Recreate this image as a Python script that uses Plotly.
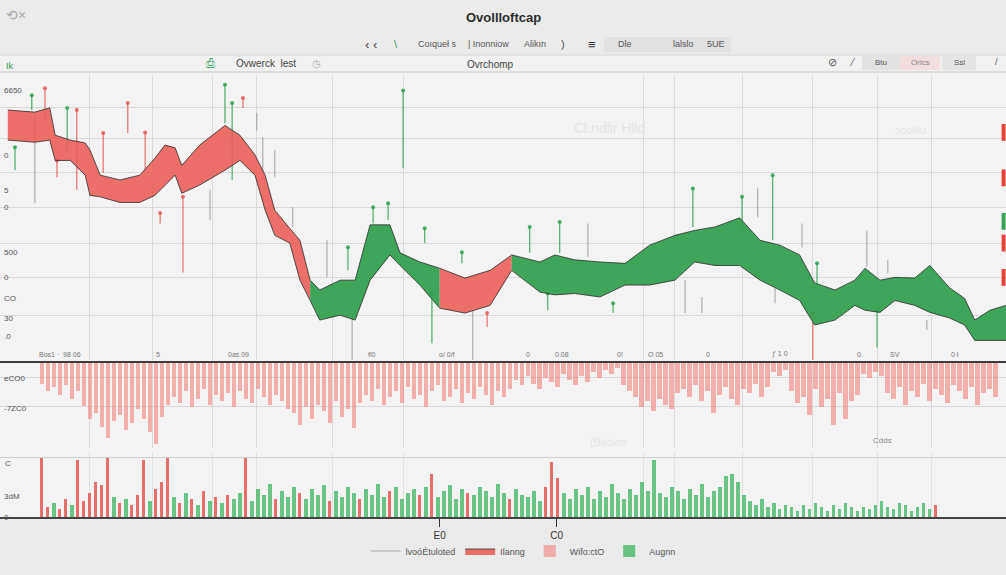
import plotly.graph_objects as go
from plotly.subplots import make_subplots

# --- price band (session index, band top / band bottom, d = falling, u = rising)
rib_x = [1.3, 5.8, 8.3, 9.2, 11.7, 14.2, 15, 16.7, 20, 23.3, 25.8, 27.5, 29.2, 30.3, 33.3,
         37.5, 40, 42.5, 44.2, 45.8, 48.3, 50, 51.7, 53.3, 56.7, 59.2, 61.7, 65, 66.7, 70,
         73.3, 77.5, 81.7, 85.3, 90, 92.5, 95.8, 100, 104.2, 108.3, 112.5, 115.8, 119.2, 123.3, 126.7,
         130, 133.3, 135.8, 139.2, 142.5, 144.2, 146.7, 149.2, 152.5, 155, 158.3, 160.8, 162.5, 165, 167.7]
rib_hi = [393, 390, 396, 357, 350, 346, 336, 300, 293, 300, 324, 343, 339, 314, 343,
          371, 357, 329, 300, 250, 224, 207, 150, 136, 150, 150, 229, 229, 189, 176,
          167, 153, 164, 186, 176, 186, 179, 176, 174, 200, 214, 221, 226, 239, 207,
          200, 186, 146, 136, 150, 167, 150, 154, 153, 171, 139, 124, 93, 107, 114]
rib_lo = [350, 347, 350, 321, 321, 300, 271, 269, 261, 261, 271, 286, 300, 274, 286,
          307, 321, 300, 250, 214, 203, 150, 121, 93, 100, 93, 150, 186, 171, 143,
          110, 103, 114, 164, 133, 129, 131, 126, 143, 143, 150, 176, 171, 171, 150,
          136, 121, 86, 93, 114, 107, 104, 121, 114, 104, 96, 86, 64, 64, 64]
rib_dir = "d" * 22 + "u" * 8 + "d" * 3 + "u" * 27

# --- wicks (session index, high, low, n = neutral)
wick_x = [2.5, 5.3, 5.8, 7.5, 9.5, 11.2, 12.8, 17.2, 21.3, 24.2, 26.7, 30.5, 35, 37.5, 38.7,
          40.5, 42.8, 43.8, 45.8, 48.8, 54.5, 58, 58.7, 62.2, 64.7, 67.2, 70.8, 72, 77, 78.8,
          81.2, 88.3, 91.3, 93.3, 98, 102.2, 114.2, 115.5, 117, 123.7, 126.3, 128.8, 129.2, 133.7,
          135.5, 136.2, 144.5, 146.2, 148, 154.5, 160, 163.7]
wick_hi = [340, 414, 389, 424, 321, 396, 393, 360, 403, 361, 246, 269, 279, 429, 403,
           410, 389, 354, 336, 254, 207, 197, 103, 254, 260, 421, 224, 131, 190, 107,
           103, 226, 131, 233, 231, 117, 150, 281, 126, 269, 281, 300, 140, 231,
           103, 174, 221, 107, 179, 93, 160, 64]
wick_lo = [307, 393, 260, 379, 297, 336, 279, 303, 360, 307, 231, 161, 236, 374, 293,
           396, 364, 293, 297, 226, 154, 164, 36, 231, 236, 310, 203, 60, 174, 36,
           83, 189, 107, 189, 183, 103, 103, 226, 103, 221, 240, 207, 117, 197,
           36, 140, 169, 54, 160, 79, 131, 46]
wick_dir = "ggnrrgrrrrrrnggrnnnnngnggggggnr" + "ggg" + "ngngngngnnrgngnn"

# --- selling pressure, hanging from the centre line (session 7..)
sell_depth = [22, 30, 26, 34, 24, 38, 30,
              45, 58, 52, 66, 78, 60, 54, 70, 62, 48, 58, 72, 84, 56, 44,
              36, 42, 30, 46, 38, 28, 44, 34, 40, 32, 46, 30, 38, 42, 28, 36, 44, 34, 40, 48,
              52, 64, 46, 58, 44, 50, 62, 40, 56, 48, 68, 42,
              34, 40, 28, 44, 36, 30, 42, 26, 38, 34, 46, 30, 24, 40, 36, 28, 42, 32, 38, 26, 34,
              44, 30, 36, 28,
              18, 24, 14, 22, 28, 16, 20, 26, 12, 18, 24, 14, 20, 10, 16,
              8, 12, 6, 24, 30, 36,
              46, 40, 50, 38, 44, 48, 32,
              28, 36, 24, 40, 30, 52, 34, 26, 38, 44, 28, 32, 22, 36, 26,
              10, 14, 8,
              30, 42, 36, 54, 28, 46, 38, 64, 32, 58, 40, 34,
              12, 16, 10, 14,
              32, 38, 26, 44, 30, 36, 22, 40, 28, 34, 42, 24, 30, 38, 26, 44, 32, 28, 36]

# --- volume (session 7..), r = down day, g = up day
volume = [60, 10, 14, 8, 18, 12, 58,
          16, 24, 36, 32, 60, 20, 14, 18, 12, 22,
          58, 16, 28, 36, 60, 20, 14, 24, 18, 12,
          26, 16, 20, 14, 22, 18, 24, 60, 16, 28,
          22, 34, 18, 26, 20, 30, 24, 18, 28, 22,
          32, 16, 26, 20, 30, 24, 18, 28, 22, 34,
          20, 26, 30, 18, 24, 28, 22, 30, 44, 20,
          26, 32, 18, 28, 24, 22, 30, 26, 20, 34,
          24, 18, 28, 22, 20, 26, 16, 30, 56, 40,
          24, 18, 28, 22, 30, 18, 26, 20, 34, 24,
          18, 28, 22, 36, 26, 58, 24, 20, 30, 26,
          18, 28, 22, 34, 20, 26, 30, 42, 44, 36,
          22, 16, 12, 18, 10, 14, 8, 12, 10, 6,
          12, 8, 14, 10, 6, 12, 8, 14, 10, 6,
          10, 8, 12, 16, 10, 8, 14, 12, 6, 10,
          14, 8, 12, 22, 10, 6, 8, 4, 6, 4,
          6, 4, 8]
vol_dir = ("rrgrrgr" + "rrrrrgrgrr" + "rgrrrgrgrg" + "rgrgrggrgg" + "ggrgggrggg"
           + "grggggrggg" + "grggggrgrg" + "ggggrggggg" + "grgggggrrr"
           + "g" * 60 + "ggr")

grid_x = [15, 25.5, 35.5, 42.8, 55.5, 67.2, 107.2, 112.5, 123.7, 135.5, 146.3, 155.3]
grid_price = [100, 154, 203, 254, 304, 353, 397]
tag_price = [361, 296, 234, 203, 154]
tag_dir = "rrgrr"

W, H = 1006, 575
RED = "rgba(234,92,86,0.88)"
GREEN = "rgba(48,158,78,0.92)"
EDGE = "rgba(45,45,45,0.8)"
FONT = "Liberation Sans"


def px(x):
    return x / W


def py(y):
    return (517 - y) / 442


fig = make_subplots(rows=3, cols=1, shared_xaxes=True)

# wicks behind the band
for d, col in (("n", "rgba(150,150,150,0.75)"), ("r", "rgba(226,80,76,0.8)"), ("g", "rgba(46,160,80,0.85)")):
    xs, ys, tx, ty = [], [], [], []
    for x, h, l, k in zip(wick_x, wick_hi, wick_lo, wick_dir):
        if k != d:
            continue
        xs += [x, x, None]
        ys += [h, l, None]
        tx.append(x)
        ty.append(h)
    fig.add_trace(go.Scatter(x=xs, y=ys, mode="lines", line=dict(color=col, width=1.2),
                             name="lvoóÉtuloted", showlegend=(d == "n"),
                             hoverinfo="skip"), row=1, col=1)
    if d != "n":
        fig.add_trace(go.Scatter(x=tx, y=ty, mode="markers", marker=dict(color=col, size=4),
                                 showlegend=False, hoverinfo="skip"), row=1, col=1)

# band, split into falling / rising runs
runs = []
start = 0
for i in range(1, len(rib_dir)):
    if rib_dir[i] != rib_dir[start]:
        runs.append((start, i, rib_dir[start]))
        start = i
runs.append((start, len(rib_dir) - 1, rib_dir[start]))
first_red = True
for a, b, d in runs:
    xs = rib_x[a:b + 1]
    fig.add_trace(go.Scatter(x=xs, y=rib_lo[a:b + 1], mode="lines",
                             line=dict(color=EDGE, width=1), showlegend=False), row=1, col=1)
    fig.add_trace(go.Scatter(x=xs, y=rib_hi[a:b + 1], mode="lines", fill="tonexty",
                             fillcolor=RED if d == "d" else GREEN,
                             line=dict(color=EDGE, width=1),
                             name="Ilanng", showlegend=(d == "d" and first_red)), row=1, col=1)
    if d == "d":
        first_red = False

# price tags on the right edge
fig.add_trace(go.Scatter(x=[167.3] * len(tag_price), y=tag_price, mode="markers",
                         marker=dict(symbol="line-ns", size=12,
                                     line=dict(width=4,
                                               color=["#e8423c" if k == "r" else "#3aa35a" for k in tag_dir])),
                         showlegend=False, hoverinfo="skip"), row=1, col=1)

# selling pressure
sell_x = list(range(7, 7 + len(sell_depth)))
fig.add_trace(go.Bar(x=sell_x, y=sell_depth, width=0.8, name="Wifo:ctO",
                     marker=dict(color="rgba(240,118,112,0.55)", line_width=0)), row=2, col=1)

# volume
vx = list(range(7, 7 + len(volume)))
up_x = [x for x, k in zip(vx, vol_dir) if k == "g"]
up_v = [v for v, k in zip(volume, vol_dir) if k == "g"]
dn_x = [x for x, k in zip(vx, vol_dir) if k == "r"]
dn_v = [v for v, k in zip(volume, vol_dir) if k == "r"]
fig.add_trace(go.Bar(x=up_x, y=up_v, width=0.55, name="Augnn",
                     marker=dict(color="rgba(60,180,96,0.75)", line_width=0)), row=3, col=1)
fig.add_trace(go.Bar(x=dn_x, y=dn_v, width=0.5, showlegend=False,
                     marker=dict(color="rgba(228,76,72,0.8)", line_width=0)), row=3, col=1)

gridc = "#d9d9d9"
for r in (1, 2):
    fig.update_xaxes(range=[0, 167.7], tickvals=grid_x, showticklabels=False,
                     showgrid=True, gridcolor=gridc, zeroline=False, row=r, col=1)
fig.update_xaxes(range=[0, 167.7], tickvals=[73.3, 92.8], ticktext=["E0", "C0"],
                 ticks="outside", ticklen=8, tickcolor="#333", showgrid=False,
                 minor=dict(tickvals=grid_x, showgrid=True, gridcolor="#e0e0e0"),
                 showline=True, linecolor="#444", linewidth=2,
                 tickfont=dict(size=10, color="#333", family=FONT), row=3, col=1)

fig.update_yaxes(domain=[py(360), 1], range=[36, 443], tickvals=grid_price,
                 showticklabels=False, showgrid=True, gridcolor=gridc, zeroline=False, row=1, col=1)
fig.update_yaxes(domain=[py(448), py(362)], range=[88, 0], tickvals=[16, 46],
                 showticklabels=False, showgrid=True, gridcolor=gridc, zeroline=False, row=2, col=1)
fig.update_yaxes(domain=[0, py(452)], range=[0, 66], tickvals=[60],
                 showticklabels=False, showgrid=True, gridcolor="#cfcfcf", zeroline=False, row=3, col=1)

shapes = [
    dict(type="rect", xref="paper", yref="paper", x0=0, x1=1, y0=py(517), y1=py(72),
         fillcolor="#f3f3f3", line_width=0, layer="below"),
    dict(type="rect", xref="paper", yref="paper", x0=0, x1=1, y0=py(72), y1=py(55),
         fillcolor="#f1f1f1", line_width=0, layer="below"),
    dict(type="line", xref="paper", yref="paper", x0=0, x1=1, y0=py(55), y1=py(55),
         line=dict(color="#d6d6d6", width=1)),
    dict(type="line", xref="paper", yref="paper", x0=0, x1=1, y0=py(72), y1=py(72),
         line=dict(color="#c8c8c8", width=1)),
    dict(type="line", xref="paper", yref="paper", x0=0, x1=1, y0=py(362), y1=py(362),
         line=dict(color="#3d3d3d", width=2)),
    dict(type="rect", xref="paper", yref="paper", x0=px(604), x1=px(731), y0=py(52), y1=py(37),
         fillcolor="#e1e1e1", line_width=0, layer="below"),
    dict(type="rect", xref="paper", yref="paper", x0=px(862), x1=px(900), y0=py(70), y1=py(56),
         fillcolor="#e2e2e2", line_width=0, layer="below"),
    dict(type="rect", xref="paper", yref="paper", x0=px(900), x1=px(940), y0=py(70), y1=py(56),
         fillcolor="#f2dede", line_width=0, layer="below"),
    dict(type="rect", xref="paper", yref="paper", x0=px(942), x1=px(976), y0=py(70), y1=py(56),
         fillcolor="#e4e4e4", line_width=0, layer="below"),
]


def note(text, x, y, size=9, color="#555", xanchor="center", **kw):
    return dict(text=text, x=px(x), y=py(y), xref="paper", yref="paper", showarrow=False,
                xanchor=xanchor, yanchor="middle", font=dict(size=size, color=color, family=FONT), **kw)


ann = [
    note("<b>Ovollloftcap</b>", 503, 17, size=13, color="#2c2c2c"),
    note("⟲×", 16, 15, size=14, color="#aaa"),
    note("‹ ‹", 371, 44, size=13, color="#444"),
    note("\\", 396, 44, size=11, color="#3a9a55"),
    note("Coıqueł s", 437, 44), note("| Inonniow", 488, 44), note("Alikın", 535, 44),
    note(")", 563, 44, size=11), note("≡", 592, 44, size=13, color="#333"),
    note("Dle", 625, 44), note("lalslo", 683, 44), note("5UE", 716, 44),
    note("Ik", 4, 66, size=9, color="#2f9a4e", xanchor="left"),
    note("⎙", 210, 63, size=11, color="#3aa35a"),
    note("Ovwerck  lest", 266, 63, size=10, color="#444"),
    note("◷", 316, 63, size=10, color="#aaa"),
    note("Ovrchomp", 490, 64, size=10, color="#444"),
    note("⊘", 832, 62, size=11, color="#555"), note("⁄", 852, 62, size=10),
    note("Btu", 881, 62, size=8), note("Orlcs", 920, 62, size=8, color="#888"),
    note("Ssl", 959, 62, size=8), note("/", 996, 62, size=9),
    # left scale
    note("6650", 2, 90, size=8, xanchor="left"), note("0", 2, 155, size=8, xanchor="left"),
    note("5", 2, 190, size=8, xanchor="left"), note("0", 2, 207, size=8, xanchor="left"),
    note("500", 2, 252, size=8, xanchor="left"), note("0", 2, 277, size=8, xanchor="left"),
    note("CO", 2, 298, size=8, xanchor="left"), note("30", 2, 318, size=8, xanchor="left"),
    note(".0", 2, 336, size=8, xanchor="left"),
    note("eCO0", 2, 378, size=8, xanchor="left"), note("-7ZC0", 2, 408, size=8, xanchor="left"),
    note("C", 3, 463, size=8, xanchor="left"), note("3dM", 2, 496, size=8, xanchor="left"),
    note("0", 2, 517, size=8, xanchor="left"),
    # session labels along the band floor
    note("Bos1 ·  98 06", 60, 354, size=7, color="#777"), note("5", 158, 354, size=7, color="#777"),
    note("0as 09", 238, 354, size=7, color="#777"), note("fl0", 372, 354, size=7, color="#777"),
    note("o/ 0/f", 447, 354, size=7, color="#777"), note("0", 528, 354, size=7, color="#777"),
    note("0.08", 562, 354, size=7, color="#777"), note("0!", 620, 354, size=7, color="#777"),
    note("O 05", 655, 354, size=7, color="#777"), note("0", 708, 354, size=7, color="#777"),
    note("ƒ 1 0", 780, 354, size=7, color="#777"), note("0.", 860, 354, size=7, color="#777"),
    note("SV", 895, 354, size=7, color="#777"), note("0 ł", 955, 354, size=7, color="#777"),
    # faint watermarks
    note("Cl.ndlir Hlld", 610, 128, size=14, color="#e6e1e1"),
    note("ɔcolilu", 910, 130, size=11, color="#e6e3e3"),
    note("(Bsclen", 608, 442, size=11, color="#e6e2e2"),
    note("Cdds", 882, 440, size=8, color="#888"),
]

fig.update_layout(
    width=W, height=H,
    margin=dict(l=0, r=0, t=75, b=58),
    paper_bgcolor="#ebebeb",
    plot_bgcolor="rgba(0,0,0,0)",
    barmode="overlay",
    bargap=0,
    shapes=shapes,
    annotations=ann,
    showlegend=True,
    legend=dict(orientation="h", x=0.52, xanchor="center", y=py(551), yanchor="middle",
                traceorder="normal",
                font=dict(size=9, color="#555", family=FONT), bgcolor="rgba(0,0,0,0)",
                itemwidth=30),
    font=dict(family=FONT),
)

fig.write_html("out.html", config={"displayModeBar": False},
               post_script="document.body.style.margin='0';")
